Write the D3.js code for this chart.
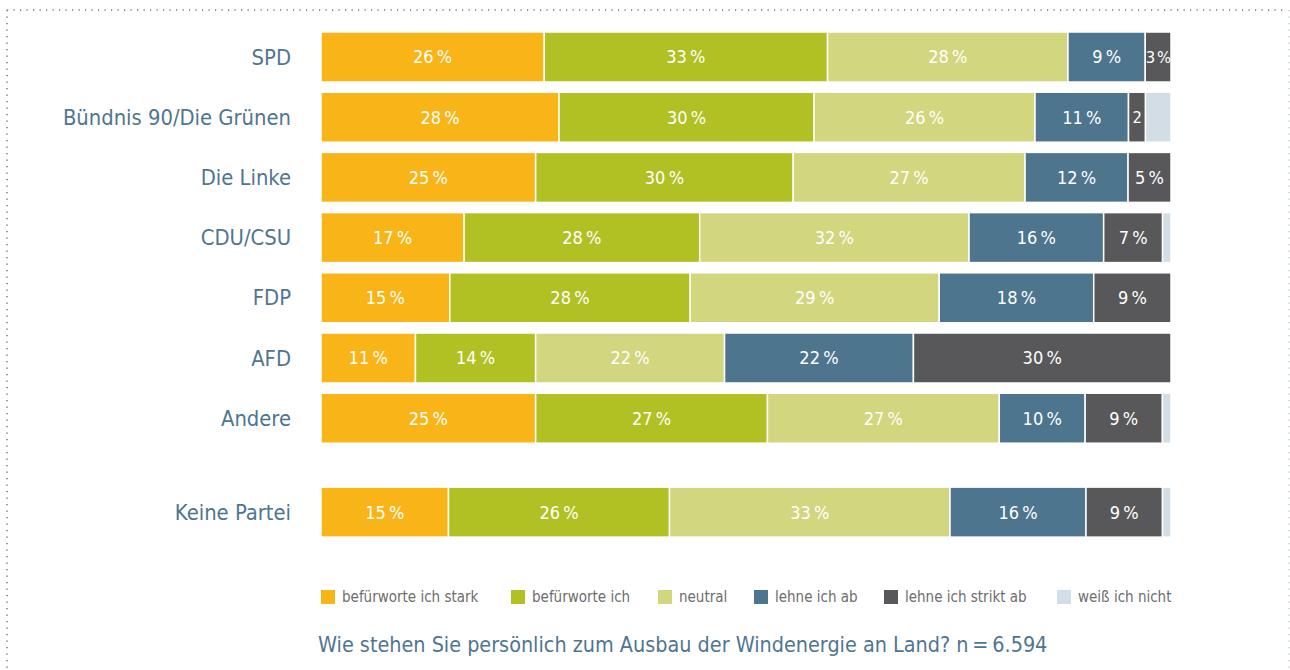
<!DOCTYPE html>
<html>
<head>
<meta charset="utf-8">
<script src="https://cdn.jsdelivr.net/npm/d3@7"></script>
<style>
  body { margin: 0; background: #fff; }
  text { font-family: "Liberation Sans Narrow", "DejaVu Sans Condensed", "Open Sans", sans-serif; }
</style>
</head>
<body>
<div id="chart"></div>
<script>
const parties = ["SPD", "Bündnis 90/Die Grünen", "Die Linke", "CDU/CSU", "FDP", "AFD", "Andere", "Keine Partei"];
const answers = ["befürworte ich stark", "befürworte ich", "neutral", "lehne ich ab", "lehne ich strikt ab", "weiß ich nicht"];
const colors = ["#f9b418", "#b1c123", "#d2d67e", "#4d758e", "#58585a", "#d3dde5"];

const starkDafuer = [26, 28, 25, 17, 15, 11, 25, 15];
const dafuer      = [33, 30, 30, 28, 28, 14, 27, 26];
const neutral     = [28, 26, 27, 32, 29, 22, 27, 33];
const dagegen     = [9, 11, 12, 16, 18, 22, 10, 16];
const striktDagegen = [3, 2, 5, 7, 9, 30, 9, 9];
const weissNicht  = [0, 3, 0, 1, 0, 0, 1, 1];

const title = "Wie stehen Sie persönlich zum Ausbau der Windenergie an Land? n\u2009=\u20096.594";

let width = 1290,
    height = 670,
    margin = ({ top: 32, right: 119, bottom: 132, left: 321 });

const svg = d3.select("#chart")
  .append("svg")
  .attr("width", width)
  .attr("height", height);

// dotted frame: top + left, right edge is barely visible
svg.append("path")
  .attr("d", `M7,10H${width - 3}M7,10V${height}`)
  .attr("fill", "none")
  .attr("stroke", "#4d758e")
  .attr("stroke-width", 2)
  .attr("stroke-dasharray", "1.2 5.3")
  .attr("opacity", 0.7);

svg.append("path")
  .attr("d", `M${width - 1},10V${height}`)
  .attr("fill", "none")
  .attr("stroke", "#4d758e")
  .attr("stroke-width", 2)
  .attr("stroke-dasharray", "1.2 5.3")
  .attr("opacity", 0.25);

const series = [starkDafuer, dafuer, neutral, dagegen, striktDagegen, weissNicht];
const rows = parties.map((p, i) => {
  const vals = series.map(s => s[i]);
  const total = d3.sum(vals);
  let acc = 0;
  const segs = vals.map((v, k) => {
    const s = { k, v, x0: acc / total, x1: (acc + v) / total };
    acc += v;
    return s;
  });
  return { party: p, i, segs };
});

const x = d3.scaleLinear()
  .domain([0, 1])
  .range([margin.left, width - margin.right]);

// last row ("Keine Partei") sits a bit further down
const y = d3.scaleLinear()
  .domain([0, 1])
  .range([margin.top, margin.top + 60.2]);
const rowPos = i => i === 7 ? i + 0.56 : i;
const barH = 50;

const row = svg.append("g")
  .selectAll("g")
  .data(rows)
  .join("g")
  .attr("transform", d => `translate(0,${y(rowPos(d.i))})`);

row.append("text")
  .attr("x", margin.left - 30)
  .attr("y", barH / 2)
  .attr("dy", "0.35em")
  .attr("text-anchor", "end")
  .attr("fill", "#4f7590")
  .attr("font-size", 21.8)
  .text(d => d.party);

const seg = row.selectAll("g.seg")
  .data(d => d.segs.filter(s => s.v > 0))
  .join("g")
  .attr("class", "seg");

seg.append("rect")
  .attr("x", s => x(s.x0))
  .attr("width", s => Math.max(0, x(s.x1) - x(s.x0)))
  .attr("height", barH)
  .attr("fill", s => colors[s.k])
  .attr("stroke", "#fff")
  .attr("stroke-width", 1.5);

seg.filter(s => s.k < 5)
  .append("text")
  .attr("x", s => (x(s.x0) + x(s.x1)) / 2)
  .attr("y", barH / 2)
  .attr("dy", "0.36em")
  .attr("text-anchor", "middle")
  .attr("fill", "#fff")
  .attr("font-size", s => (x(s.x1) - x(s.x0)) < 30 ? 16.5 : 18)
  .attr("letter-spacing", s => (x(s.x1) - x(s.x0)) < 30 ? -0.6 : 0)
  .text(s => (x(s.x1) - x(s.x0)) < 22 ? `${s.v}` : `${s.v}\u2009%`);

// legend
const legendX = [321, 511, 658, 754, 884, 1057];
const legend = svg.append("g")
  .selectAll("g")
  .data(answers)
  .join("g")
  .attr("transform", (d, i) => `translate(${legendX[i]},590)`);

legend.append("rect")
  .attr("width", 14)
  .attr("height", 14)
  .attr("fill", (d, i) => colors[i]);

legend.append("text")
  .attr("x", 21)
  .attr("y", 7)
  .attr("dy", "0.36em")
  .attr("fill", "#6d6d6d")
  .attr("font-size", 15)
  .text(d => d);

svg.append("text")
  .attr("x", 318)
  .attr("y", 645)
  .attr("dy", "0.35em")
  .attr("fill", "#4f7590")
  .attr("font-size", 21.4)
  .text(title);
</script>
</body>
</html>
